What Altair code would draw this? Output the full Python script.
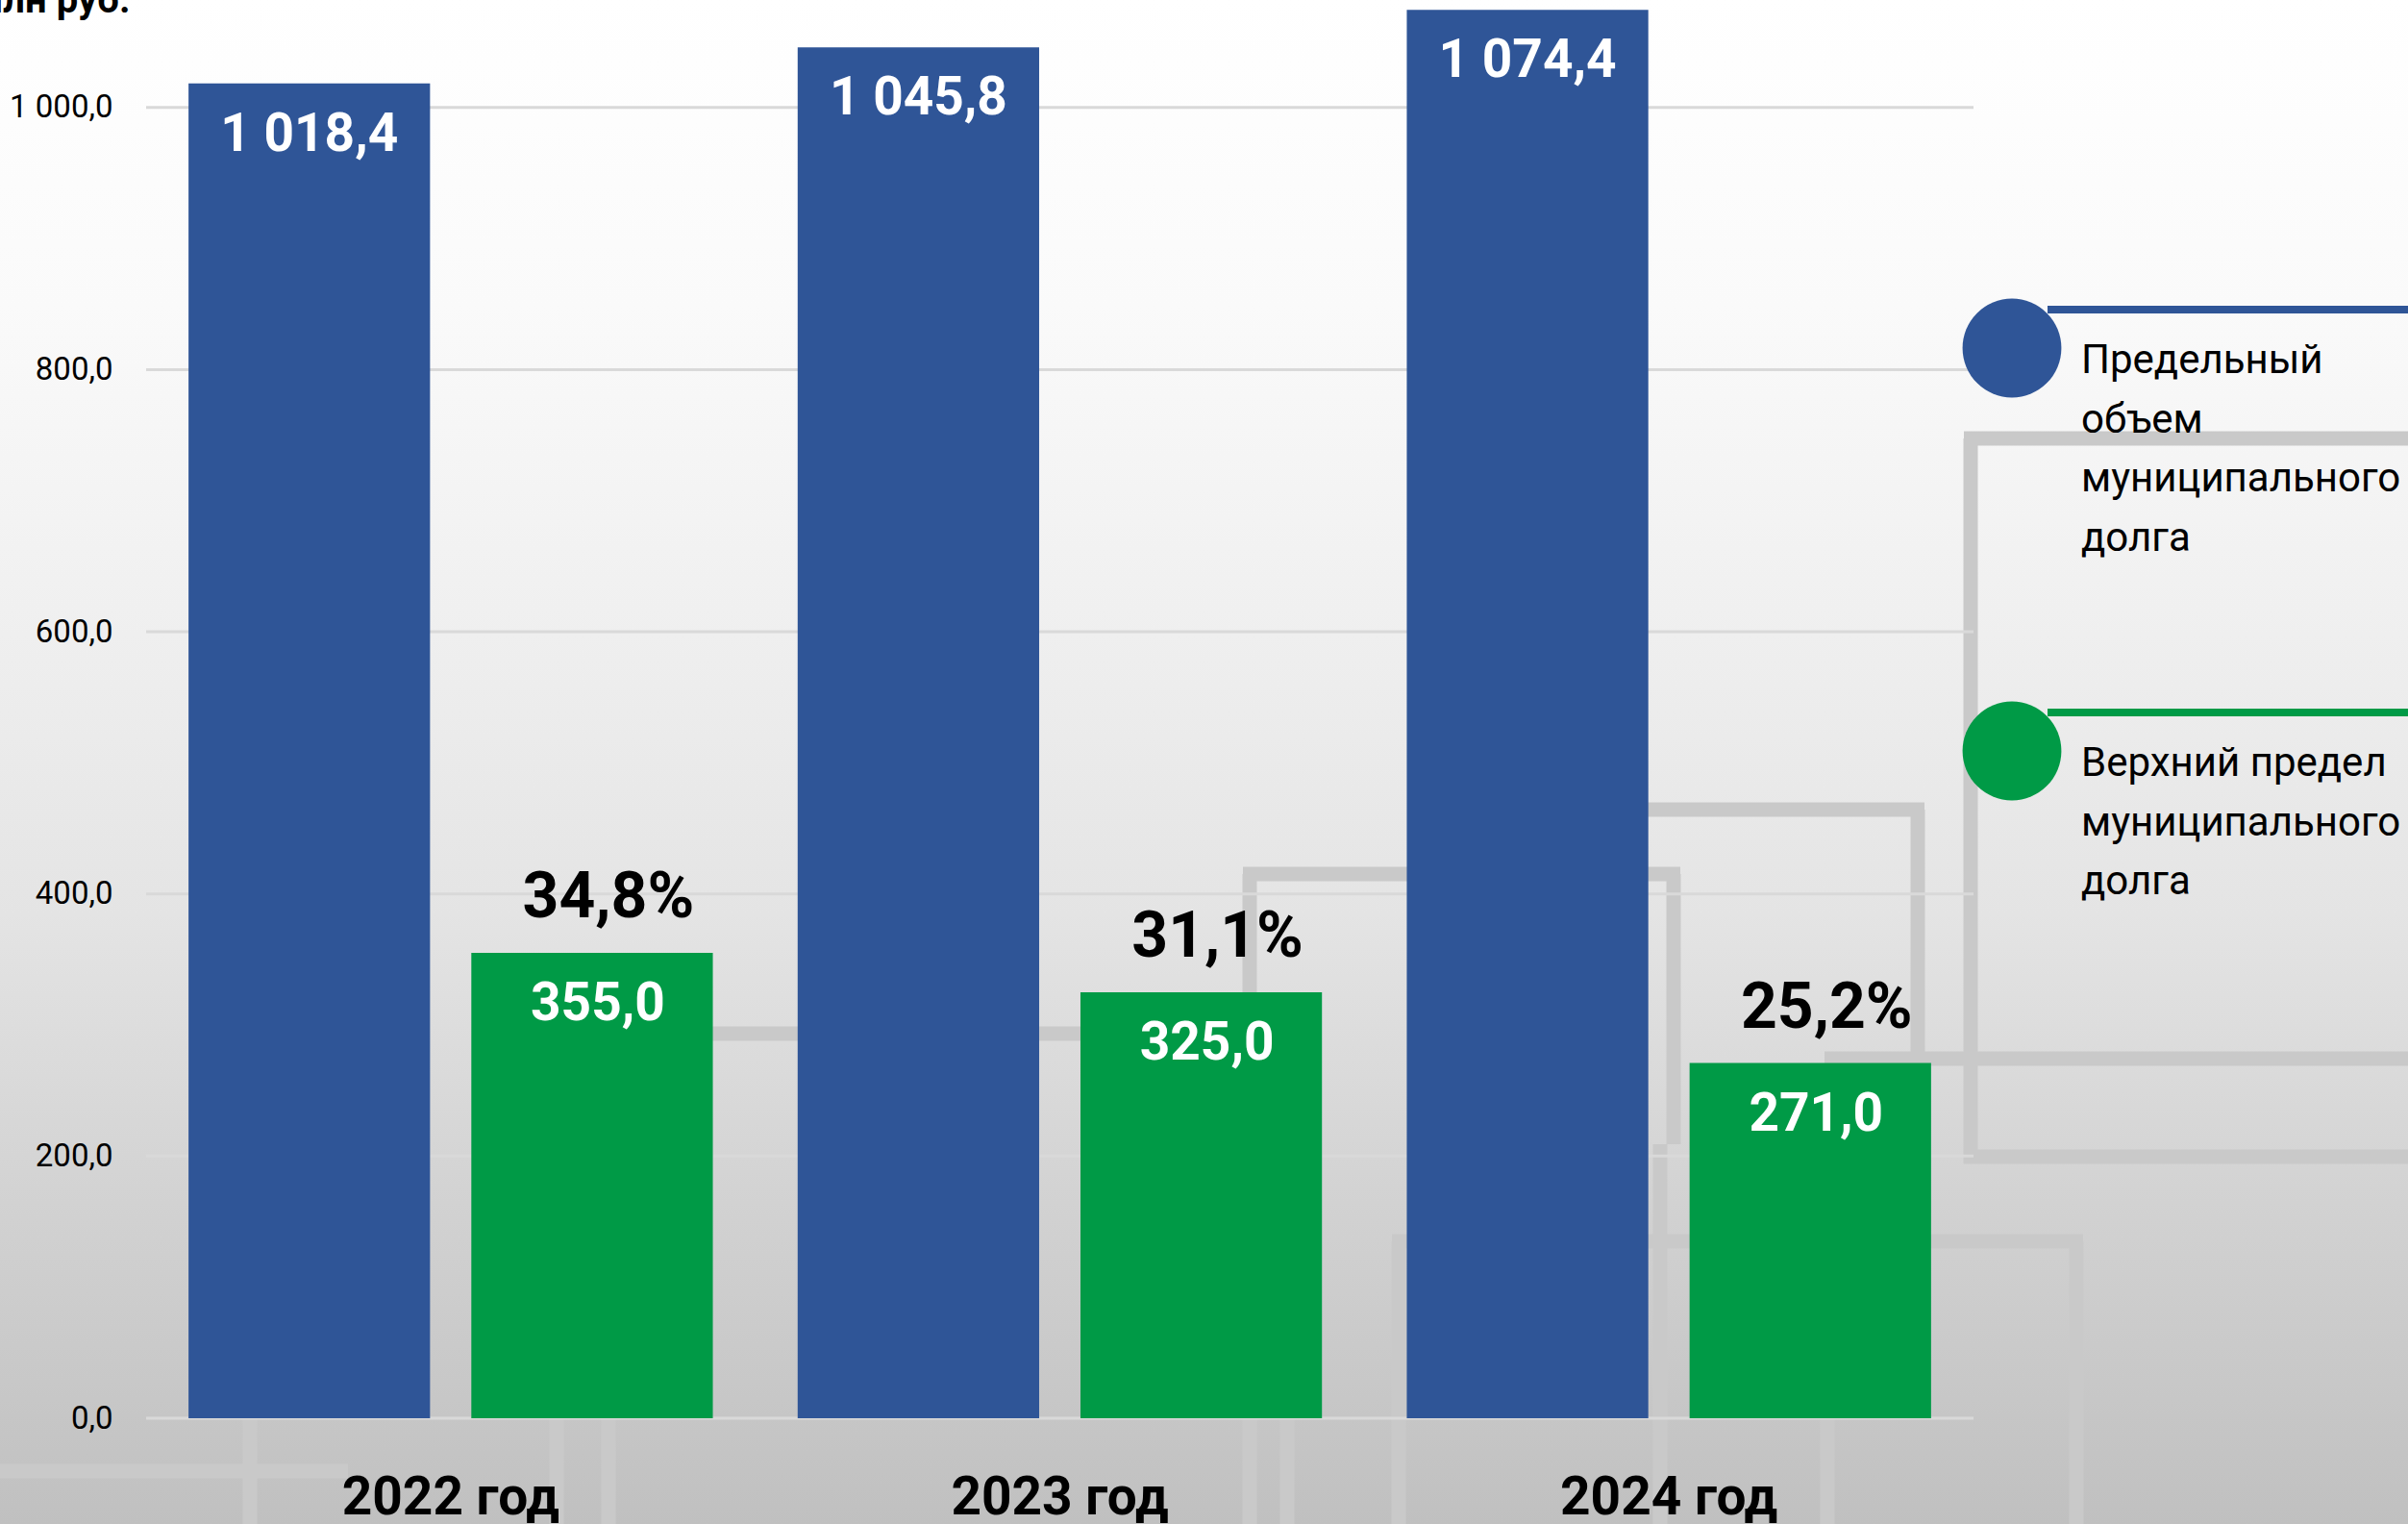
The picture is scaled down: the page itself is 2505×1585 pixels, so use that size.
import altair as alt
import pandas as pd

# ---------------- data ----------------
years = ["2022 год", "2023 год", "2024 год"]
series_names = ["Предельный объем муниципального долга",
                "Верхний предел муниципального долга"]
legend_lines = [["Предельный", "объем", "муниципального", "долга"],
                ["Верхний предел", "муниципального", "долга"]]
limit_values = [1018.4, 1045.8, 1074.4]
upper_values = [355.0, 325.0, 271.0]
upper_share_pct = [34.8, 31.1, 25.2]
y_ticks = [0, 200, 400, 600, 800, 1000]
unit_label = "млн руб."
series_colors = ["#2F5597", "#009A46"]

# ---------------- layout ----------------
W, H = 1901, 1475
PAD_L, PAD_T, PAD_R, PAD_B = 152, 0, 452, 110
FONT = "Roboto, 'Liberation Sans', sans-serif"
DECOR = "#c9c9c9"


def ru_num(v):
    return f"{v:,.1f}".replace(",", " ").replace(".", ",")


rows = []
for i, yr in enumerate(years):
    rows.append({"year": yr, "series": series_names[0], "value": limit_values[i],
                 "label": ru_num(limit_values[i])})
    rows.append({"year": yr, "series": series_names[1], "value": upper_values[i],
                 "label": ru_num(upper_values[i])})
bars_df = pd.DataFrame(rows)
pct_df = pd.DataFrame({
    "year": years,
    "series": [series_names[1]] * len(years),
    "value": upper_values,
    "pct": [f"{p:.1f}%".replace(".", ",") for p in upper_share_pct],
})
grid_df = pd.DataFrame({"value": y_ticks})

x_axis = alt.Axis(title=None, labelAngle=0, labelFont=FONT, labelFontSize=55,
                  labelFontWeight="bold", labelColor="black", labelPadding=99,
                  labelBaseline="alphabetic", labelLimit=0, domain=False, ticks=False,
                  grid=False, zindex=1)
y_axis = alt.Axis(title=None, values=y_ticks,
                  labelExpr="replace(replace(format(datum.value, ',.1f'), ',', ' '), '.', ',')",
                  labelFont=FONT, labelFontSize=33, labelColor="black",
                  labelPadding=35, labelLimit=0, domain=False, ticks=False, grid=False,
                  zindex=1)

x_enc = alt.X("year:N", sort=years, scale=alt.Scale(paddingInner=0, paddingOuter=0), axis=x_axis)
xo_enc = alt.XOffset("series:N", sort=series_names,
                     scale=alt.Scale(paddingInner=0.146, paddingOuter=0.15))
y_enc = alt.Y("value:Q", scale=alt.Scale(domain=[0, 1082], nice=False, zero=True), axis=y_axis)

one = alt.Data(values=[{"a": 1}])

# background gradient covering the whole canvas
background = alt.Chart(one).mark_rect(
    fill=alt.LinearGradient(
        gradient="linear", x1=0, y1=0, x2=0, y2=1,
        stops=[alt.GradientStop(offset=0, color="#ffffff"),
               alt.GradientStop(offset=0.2, color="#fafafa"),
               alt.GradientStop(offset=0.4, color="#f0f0f0"),
               alt.GradientStop(offset=0.6, color="#e4e4e4"),
               alt.GradientStop(offset=0.8, color="#d1d1d1"),
               alt.GradientStop(offset=1.0, color="#c0c0c0")]),
    strokeWidth=0,
).encode(x=alt.value(-PAD_L), x2=alt.value(W + PAD_R),
         y=alt.value(-PAD_T), y2=alt.value(H + PAD_B))

# decorative frame lines of the slide background (full-canvas coordinates)
decor_segments = [
    (2050, 456, 2050, 1210), (2043, 456, 2505, 456), (2043, 1203, 2505, 1203),
    (1898, 1101, 2505, 1101),
    (1293, 909, 1748, 909), (1300, 909, 1300, 1585), (1741, 909, 1741, 1190),
    (1727, 1190, 1727, 1585),
    (1714, 842, 2002, 842), (1995, 842, 1995, 1102),
    (740, 1075, 1125, 1075),
    (1448, 1291, 2167, 1291), (1455, 1291, 1455, 1585), (2160, 1291, 2160, 1585),
    (260, 1475, 260, 1585), (579, 1475, 579, 1585), (633, 1475, 633, 1585),
    (0, 1530, 362, 1530), (1339, 1475, 1339, 1585), (1901, 1475, 1901, 1585),
]
decor_layers = [
    alt.Chart(one).mark_rule(color=DECOR, strokeWidth=15).encode(
        x=alt.value(x1 - PAD_L), x2=alt.value(x2 - PAD_L),
        y=alt.value(y1 - PAD_T), y2=alt.value(y2 - PAD_T))
    for (x1, y1, x2, y2) in decor_segments
]

grid = alt.Chart(grid_df).mark_rule(color="#d9d9d9", strokeWidth=3).encode(
    y=y_enc, x=alt.value(0), x2=alt.value(W))

color_enc = alt.Color("series:N", sort=series_names,
                      scale=alt.Scale(domain=series_names, range=series_colors), legend=None)

bars = alt.Chart(bars_df).mark_bar().encode(x=x_enc, xOffset=xo_enc, y=y_enc, color=color_enc)

label_base = alt.Chart(bars_df).encode(x=x_enc, xOffset=xo_enc, y=y_enc, text="label:N")
labels_blue = label_base.transform_filter(alt.datum.series == series_names[0]).mark_text(
    baseline="alphabetic", dy=70, font=FONT, fontSize=55, fontWeight="bold", color="white")
labels_green = label_base.transform_filter(alt.datum.series == series_names[1]).mark_text(
    baseline="alphabetic", dy=70, dx=6, font=FONT, fontSize=55, fontWeight="bold", color="white")

pct_labels = alt.Chart(pct_df).mark_text(
    baseline="alphabetic", dy=-37, dx=17, font=FONT, fontSize=66, fontWeight="bold",
    color="black").encode(x=x_enc, xOffset=xo_enc, y=y_enc, text="pct:N")

# unit label at the top-left corner (partly outside the canvas, as in the source)
unit_text = alt.Chart(one).mark_text(
    align="left", baseline="alphabetic", font=FONT, fontSize=40, fontWeight="bold",
    color="black").encode(x=alt.value(-27 - PAD_L), y=alt.value(13 - PAD_T),
                          text=alt.value(unit_label))

# custom legend
legend_layers = []
legend_circle_y = [362, 781]
legend_line_y = [322, 741]
legend_text_y = [388, 807]
for i in range(len(series_names)):
    legend_layers.append(
        alt.Chart(one).mark_rule(color=series_colors[i], strokeWidth=8).encode(
            x=alt.value(2130 - PAD_L), x2=alt.value(2505 - PAD_L),
            y=alt.value(legend_line_y[i])))
    legend_layers.append(
        alt.Chart(one).mark_circle(color=series_colors[i], opacity=1, size=10568).encode(
            x=alt.value(2093 - PAD_L), y=alt.value(legend_circle_y[i])))
    legend_layers.append(
        alt.Chart(one).mark_text(align="left", baseline="alphabetic", font=FONT,
                                 fontSize=42, lineHeight=61.7, color="black").encode(
            x=alt.value(2165 - PAD_L), y=alt.value(legend_text_y[i]),
            text=alt.value(legend_lines[i])))

chart = alt.layer(
    background, *decor_layers, grid, bars, labels_blue, labels_green, pct_labels,
    unit_text, *legend_layers
).properties(
    width=W, height=H,
    padding={"left": PAD_L, "top": PAD_T, "right": PAD_R, "bottom": PAD_B},
    autosize=alt.AutoSizeParams(type="none"),
    background="#ffffff",
).configure_view(stroke=None)

chart.save("out.html", embed_options={"renderer": "svg", "actions": False})
